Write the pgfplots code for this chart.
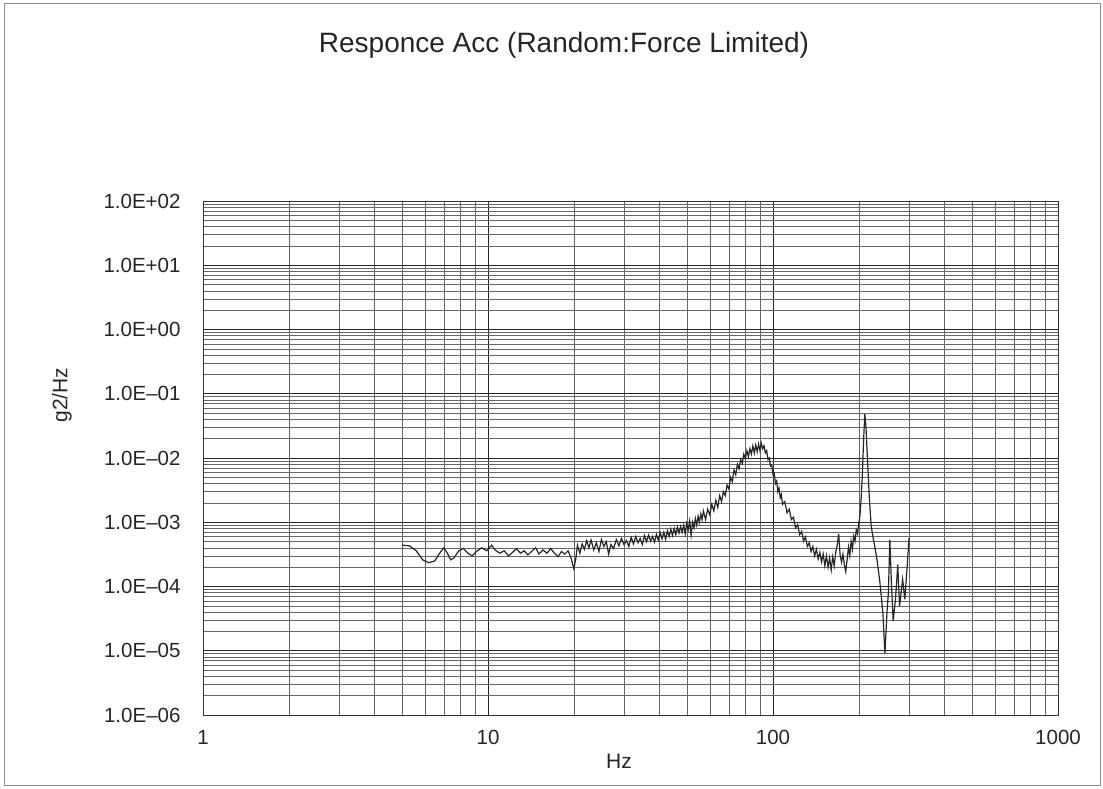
\documentclass[border=0pt]{standalone}
\usepackage{fontspec}
\setmainfont{Liberation Sans}
\usepackage{pgfplots}
\usepackage{pgfplotstable}
\pgfplotsset{compat=1.18}
\pgfplotstableread{
f v
5.0 4.4e-4
5.3 4.3e-4
5.6 3.6e-4
5.9 2.6e-4
6.2 2.35e-4
6.5 2.5e-4
6.8 3.4e-4
7.0 4.0e-4
7.2 3.3e-4
7.4 2.6e-4
7.6 2.8e-4
7.9 3.6e-4
8.2 3.9e-4
8.5 3.3e-4
8.8 3.0e-4
9.1 3.5e-4
9.5 4.0e-4
9.9 3.6e-4
10.3 4.4e-4
10.6 3.7e-4
11.0 3.3e-4
11.4 3.6e-4
11.8 3.0e-4
12.2 3.4e-4
12.6 3.9e-4
13.0 3.3e-4
13.4 3.6e-4
13.8 3.1e-4
14.2 3.5e-4
14.7 4.0e-4
15.1 3.2e-4
15.6 3.7e-4
16.1 3.3e-4
16.6 3.9e-4
17.1 3.3e-4
17.6 2.9e-4
18.1 3.5e-4
18.6 3.2e-4
19.1 3.6e-4
19.6 2.7e-4
20.0 1.9e-4
20.3 2.6e-4
20.6 4.4e-4
21.0 3.3e-4
21.4 4.6e-4
21.8 3.8e-4
22.2 5.2e-4
22.6 4.0e-4
23.0 5.3e-4
23.5 3.7e-4
24.0 4.8e-4
24.5 3.5e-4
25.0 5.4e-4
25.5 4.2e-4
26.0 5.0e-4
26.5 3.2e-4
27.0 4.5e-4
27.6 3.9e-4
28.2 5.4e-4
28.8 4.3e-4
29.4 5.6e-4
30.0 4.5e-4
30.6 5.2e-4
31.2 4.2e-4
31.8 5.8e-4
32.4 4.6e-4
33.0 6.0e-4
33.6 4.8e-4
34.2 5.6e-4
34.8 4.5e-4
35.4 6.2e-4
36.0 5.0e-4
36.6 6.3e-4
37.2 5.1e-4
37.8 6.0e-4
38.4 4.9e-4
39.0 6.5e-4
39.6 5.3e-4
40.2 6.9e-4
40.8 5.5e-4
41.4 7.0e-4
42.0 5.4e-4
42.6 7.4e-4
43.2 6.0e-4
43.8 7.8e-4
44.4 6.2e-4
45.0 8.0e-4
45.6 6.4e-4
46.2 8.4e-4
46.8 6.8e-4
47.4 8.6e-4
48.0 7.0e-4
48.6 9.0e-4
49.2 6.6e-4
49.8 9.5e-4
50.4 7.6e-4
51.0 1.05e-3
51.6 6.3e-4
52.2 1.0e-3
52.8 8.2e-4
53.4 1.15e-3
54.0 9.0e-4
54.6 1.25e-3
55.2 1.0e-3
55.8 1.35e-3
56.4 1.1e-3
57 1.5e-3
58 1.1e-3
59 1.6e-3
60 1.3e-3
61 1.9e-3
62 1.5e-3
63 2.2e-3
64 1.7e-3
65 2.6e-3
66 2.1e-3
67 3.0e-3
68 2.6e-3
69 3.8e-3
70 3.3e-3
71 5.0e-3
72 4.3e-3
73 6.5e-3
74 5.5e-3
75 8.0e-3
76 6.8e-3
77 9.5e-3
78 8.3e-3
79 1.15e-2
80 9.8e-3
81 1.3e-2
82 1.05e-2
83 1.4e-2
84 1.15e-2
85 1.55e-2
86 1.2e-2
87 1.6e-2
88 1.25e-2
89 1.65e-2
90 1.3e-2
91 1.7e-2
92 1.4e-2
93 1.55e-2
94 1.2e-2
95 1.3e-2
96 9.5e-3
97 1.0e-2
98 7.5e-3
99 7.8e-3
100 5.5e-3
101 5.8e-3
102 4.0e-3
103 4.4e-3
104 3.0e-3
105 3.4e-3
106 2.4e-3
107 2.7e-3
108 1.9e-3
110 2.1e-3
112 1.4e-3
114 1.6e-3
116 1.1e-3
118 1.2e-3
120 8.2e-4
122 9.2e-4
124 6.4e-4
126 7.2e-4
128 5.1e-4
130 5.9e-4
132 4.2e-4
134 4.8e-4
136 3.5e-4
138 4.2e-4
140 3.0e-4
142 3.8e-4
144 2.7e-4
146 3.4e-4
148 2.4e-4
150 3.2e-4
152 2.1e-4
154 3.0e-4
156 2.0e-4
158 2.8e-4
160 1.8e-4
162 2.9e-4
164 2.1e-4
166 3.4e-4
168 4.4e-4
170 6.6e-4
172 3.1e-4
174 2.4e-4
176 3.2e-4
178 2.2e-4
180 1.7e-4
182 2.6e-4
184 4.1e-4
186 3.0e-4
188 5.1e-4
190 3.8e-4
192 6.1e-4
194 5.1e-4
196 7.6e-4
198 6.6e-4
200 9.6e-4
202 1.3e-3
204 2.5e-3
206 6.0e-3
208 2.0e-2
210 4.8e-2
212 3.0e-2
214 1.2e-2
216 5.0e-3
218 2.2e-3
221 9.0e-4
224 6.0e-4
228 4.0e-4
232 2.5e-4
237 1.2e-4
243 3.8e-5
247 9.0e-6
251 3.8e-5
254 8.1e-5
257 5.3e-4
260 1.3e-4
264 2.9e-5
269 6.3e-5
274 2.2e-4
278 4.9e-5
285 1.3e-4
290 6.3e-5
296 2.2e-4
300 5.7e-4
}\datatable
\begin{document}
\begin{tikzpicture}[x=1pt,y=1pt]
\useasboundingbox (-203,-73) rectangle (900,715);
\draw[black!45, line width=0.8pt] (-199,-70) rectangle (897,712);
\begin{axis}[
  at={(0,0)}, anchor=south west,
  scale only axis, width=855pt, height=514pt,
  xmode=log, ymode=log,
  xmin=1, xmax=1000, ymin=1e-6, ymax=1e2,
  xtick={1,10,100,1000},
  xticklabels={1,10,100,1000},
  ytick={1e-6,1e-5,1e-4,1e-3,1e-2,1e-1,1,10,100},
  yticklabels={1.0E--06,1.0E--05,1.0E--04,1.0E--03,1.0E--02,1.0E--01,1.0E+00,1.0E+01,1.0E+02},
  minor xtick={2,3,4,5,6,7,8,9,20,30,40,50,60,70,80,90,200,300,400,500,600,700,800,900},
  minor ytick={2e-6,3e-6,4e-6,5e-6,6e-6,7e-6,8e-6,9e-6,
               2e-5,3e-5,4e-5,5e-5,6e-5,7e-5,8e-5,9e-5,
               2e-4,3e-4,4e-4,5e-4,6e-4,7e-4,8e-4,9e-4,
               2e-3,3e-3,4e-3,5e-3,6e-3,7e-3,8e-3,9e-3,
               2e-2,3e-2,4e-2,5e-2,6e-2,7e-2,8e-2,9e-2,
               0.2,0.3,0.4,0.5,0.6,0.7,0.8,0.9,
               2,3,4,5,6,7,8,9,
               20,30,40,50,60,70,80,90},
  grid=both,
  major grid style={black!85, line width=0.9pt},
  minor grid style={black!60, line width=0.5pt},
  major tick length=0pt, minor tick length=0pt,
  axis line style={black!80, line width=0.9pt},
  ticklabel style={font=\fontsize{20.5}{24}\selectfont, text=black!85},
  xticklabel style={yshift=-12pt},
  yticklabel style={xshift=-19pt},
]
\addplot[black!85, line width=1.2pt, mark=none] table[x=f, y=v] {\datatable};
\end{axis}
\node[font=\fontsize{28}{32}\selectfont, text=black!85] at (361,670) {Responce Acc (Random:Force Limited)};
\node[font=\fontsize{21}{25}\selectfont, text=black!85, rotate=90] at (-141,320) {g2/Hz};
\node[font=\fontsize{21}{25}\selectfont, text=black!85] at (416,-46) {Hz};
\end{tikzpicture}
\end{document}
